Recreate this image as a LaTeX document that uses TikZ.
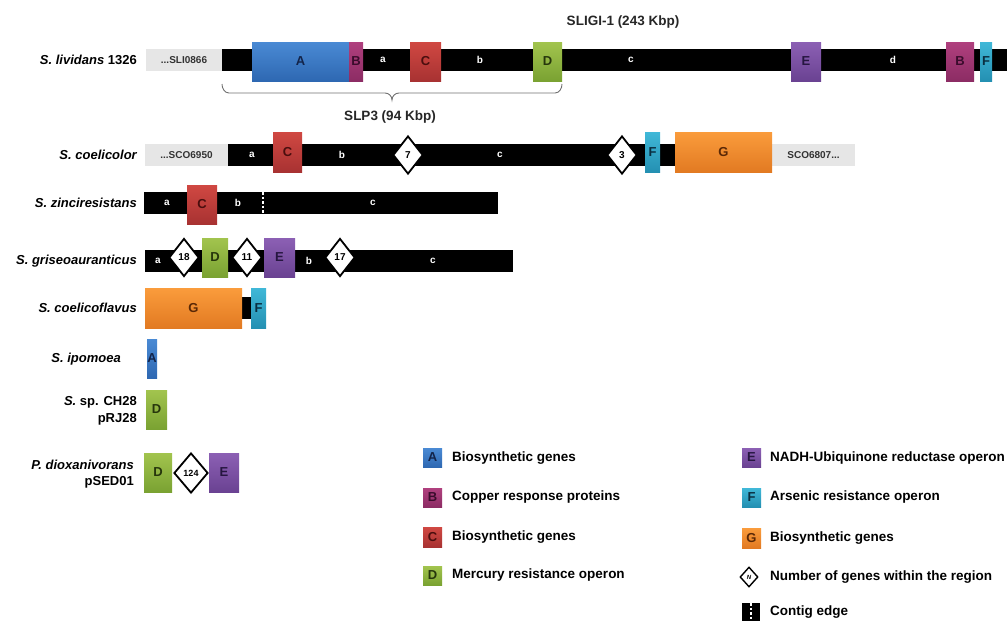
\documentclass[tikz,border=0pt]{standalone}
\usepackage{fontspec}
\setmainfont{Liberation Sans}
\usetikzlibrary{shapes.geometric,shadings}
\definecolor{Atop}{HTML}{4A8AD4}\definecolor{Abot}{HTML}{2E68B2}\definecolor{Atxt}{HTML}{13244A}
\definecolor{Btop}{HTML}{B0407E}\definecolor{Bbot}{HTML}{8C2C64}\definecolor{Btxt}{HTML}{3A0C2C}
\definecolor{Ctop}{HTML}{D04842}\definecolor{Cbot}{HTML}{A83232}\definecolor{Ctxt}{HTML}{4A0E0E}
\definecolor{Dtop}{HTML}{A2C44E}\definecolor{Dbot}{HTML}{7AA232}\definecolor{Dtxt}{HTML}{26360C}
\definecolor{Etop}{HTML}{8C60B4}\definecolor{Ebot}{HTML}{6A4292}\definecolor{Etxt}{HTML}{261640}
\definecolor{Ftop}{HTML}{40B8D8}\definecolor{Fbot}{HTML}{2490B2}\definecolor{Ftxt}{HTML}{0A2E40}
\definecolor{Gtop}{HTML}{FA9C3C}\definecolor{Gbot}{HTML}{E27A22}\definecolor{Gtxt}{HTML}{5A2806}
\definecolor{grayfill}{HTML}{E6E6E6}\definecolor{graytext}{HTML}{333333}
\definecolor{bracecol}{HTML}{707070}
\newcommand\fs[1]{\fontsize{#1}{#1}\selectfont\bfseries}
% gene block: name, x1, x2, y1, y2, colour key, letter
\newcommand\gbox[7]{\node[genebox, top color=#6top, bottom color=#6bot, text=#6txt,
  minimum width={#3-#2}, minimum height={#5-#4}] (#1) at ({(#2+#3)/2},{(#4+#5)/2}) {#7};}
% plain rectangle: name, x1, x2, y1, y2, style, text
\newcommand\rbox[7]{\node[#6, minimum width={#3-#2}, minimum height={#5-#4}] (#1) at ({(#2+#3)/2},{(#4+#5)/2}) {#7};}
\begin{document}
\begin{tikzpicture}[x=1pt,y=-1pt,
  genebox/.style={draw=none, inner sep=0, outer sep=0, font=\fs{13}},
  barbox/.style={fill=black, draw=none, inner sep=0, outer sep=0},
  graybox/.style={fill=grayfill, draw=none, inner sep=0, outer sep=0, text=graytext, font=\fs{10}},
  barlbl/.style={text=white, font=\fs{10}, inner sep=0},
  species/.style={anchor=east, inner sep=0, font=\fs{13}, align=right},
  count/.style={diamond, draw=black, line width=1.8pt, fill=white, inner sep=0,
    minimum width=30, minimum height=38, font=\fs{10}},
  legtext/.style={anchor=west, inner sep=0, font=\fs{13.5}},
  title/.style={inner sep=0, font=\fs{13.5}, text=black!85}]
\useasboundingbox (0,0) rectangle (1007,621);

% ---------- Row 1: S. lividans 1326 ----------
\node[species] (sp1) at (137,60) {\itshape S. lividans\upshape{} 1326};
\rbox{g1}{146}{222}{49}{71}{graybox}{...SLI0866}
\rbox{bar1}{222}{1007}{49}{71}{barbox}{}
\gbox{a1}{252}{349}{42}{81}{A}{A}
\gbox{b1}{349}{363}{42}{81}{B}{B}
\gbox{c1}{410}{441}{42}{81}{C}{C}
\gbox{d1}{533}{562}{42}{81}{D}{D}
\gbox{e1}{791}{821}{42}{81}{E}{E}
\gbox{b1b}{946}{974}{42}{81}{B}{B}
\gbox{f1}{980}{992}{42}{81}{F}{F}
\node[barlbl] (r1a) at (383,60) {a};
\node[barlbl] (r1b) at (480,60) {b};
\node[barlbl] (r1c) at (631,60) {c};
\node[barlbl] (r1d) at (893,60) {d};
\node[title] (sligi) at (623,22) {SLIGI-1 (243 Kbp)};
% brace
\coordinate (brL) at (222,84);
\coordinate (brR) at (562,84);
\coordinate (brT) at (392,100);
\draw[bracecol, line width=0.9pt] (brL) to[out=-90,in=180] (229,93) -- (385,93)
  to[out=0,in=90] (brT) to[out=90,in=180] (399,93) -- (555,93) to[out=0,in=-90] (brR);
\node[title] (slp3) at (390,117) {SLP3 (94 Kbp)};

% ---------- Row 2: S. coelicolor ----------
\node[species] (sp2) at (137,155) {\itshape S. coelicolor};
\rbox{g2}{145}{228}{144}{166}{graybox}{...SCO6950}
\rbox{bar2}{228}{676}{144}{166}{barbox}{}
\rbox{g2b}{772}{855}{144}{166}{graybox}{SCO6807...}
\gbox{c2}{273}{302}{132}{172}{C}{C}
\gbox{f2}{645}{660}{132}{172}{F}{F}
\gbox{g2g}{675}{772}{132}{172}{G}{G}
\node[barlbl] (r2a) at (252,155) {a};
\node[barlbl] (r2b) at (342,155) {b};
\node[barlbl] (r2c) at (500,155) {c};
\node[count] (n7) at (408,155) {7};
\node[count] (n3) at (622,155) {3};

% ---------- Row 3: S. zinciresistans ----------
\node[species] (sp3) at (137,203) {\itshape S. zinciresistans};
\rbox{bar3}{144}{498}{192}{214}{barbox}{}
\gbox{c3}{187}{217}{185}{224}{C}{C}
\node[barlbl] (r3a) at (167,203) {a};
\node[barlbl] (r3b) at (238,203) {b};
\node[barlbl] (r3c) at (373,203) {c};
\coordinate (ce1) at (263,192);
\coordinate (ce2) at (263,214);
\draw[white, line width=1.8pt, dash pattern=on 2.5pt off 2pt] (ce1) -- (ce2);

% ---------- Row 4: S. griseoauranticus ----------
\node[species] (sp4) at (137,261) {\itshape S. griseoauranticus};
\rbox{bar4}{145}{513}{250}{272}{barbox}{}
\gbox{d4}{202}{228}{238}{277}{D}{D}
\gbox{e4}{264}{295}{238}{277}{E}{E}
\node[barlbl] (r4a) at (158,261) {a};
\node[barlbl] (r4b) at (309,261) {b};
\node[barlbl] (r4c) at (433,261) {c};
\node[count] (n18) at (184,257.5) {18};
\node[count] (n11) at (247,257.5) {11};
\node[count] (n17) at (340,257.5) {17};

% ---------- Row 5: S. coelicoflavus ----------
\node[species] (sp5) at (137,308) {\itshape S. coelicoflavus};
\rbox{bar5}{240}{253}{297}{319}{barbox}{}
\gbox{g5}{145}{242}{288}{328}{G}{G}
\gbox{f5}{251}{266}{288}{328}{F}{F}

% ---------- Row 6: S. ipomoea ----------
\node[species] (sp6) at (121,359) {\itshape S. ipomoea};
\gbox{a6}{147}{157}{339}{378}{A}{A}

% ---------- Row 7: S. sp. CH28 pRJ28 ----------
\node[species] (sp7a) at (137,402) {\itshape S.\upshape{} sp. CH28};
\node[species] (sp7b) at (137,419) {pRJ28};
\gbox{d7}{146}{167}{390}{429}{D}{D}

% ---------- Row 8: P. dioxanivorans pSED01 ----------
\node[species] (sp8a) at (134,465) {\itshape P. dioxanivorans};
\node[species] (sp8b) at (134,482) {pSED01};
\gbox{d8}{144}{172}{453}{492}{D}{D}
\gbox{e8}{209}{239}{453}{492}{E}{E}
\node[count, minimum width=34, minimum height=40, font=\fs{9}] (n124) at (191,473) {124};

% ---------- Legend ----------
\gbox{lA}{423}{442}{448}{467}{A}{A}
\gbox{lB}{423}{442}{488}{507}{B}{B}
\gbox{lC}{423}{442}{527}{547}{C}{C}
\gbox{lD}{423}{442}{566}{585}{D}{D}
\node[legtext] (tA) at (452,458) {Biosynthetic genes};
\node[legtext] (tB) at (452,497) {Copper response proteins};
\node[legtext] (tC) at (452,537) {Biosynthetic genes};
\node[legtext] (tD) at (452,575.5) {Mercury resistance operon};
\gbox{lE}{742}{761}{448}{467}{E}{E}
\gbox{lF}{742}{761}{488}{507}{F}{F}
\gbox{lG}{742}{761}{528}{548}{G}{G}
\node[count, line width=1.4pt, minimum width=18, minimum height=20, font=\fontsize{6}{6}\selectfont\bfseries\itshape] (lN) at (749,577) {N};
\rbox{lCE}{742}{760}{603}{621}{barbox}{}
\coordinate (lce1) at (751,603);
\coordinate (lce2) at (751,621);
\draw[white, line width=1.8pt, dash pattern=on 2.5pt off 2pt] (lce1) -- (lce2);
\node[legtext] (tE) at (770,458) {NADH-Ubiquinone reductase operon};
\node[legtext] (tF) at (770,497) {Arsenic resistance operon};
\node[legtext] (tG) at (770,538) {Biosynthetic genes};
\node[legtext] (tN) at (770,577) {Number of genes within the region};
\node[legtext] (tCE) at (770,612) {Contig edge};
\end{tikzpicture}
\end{document}
